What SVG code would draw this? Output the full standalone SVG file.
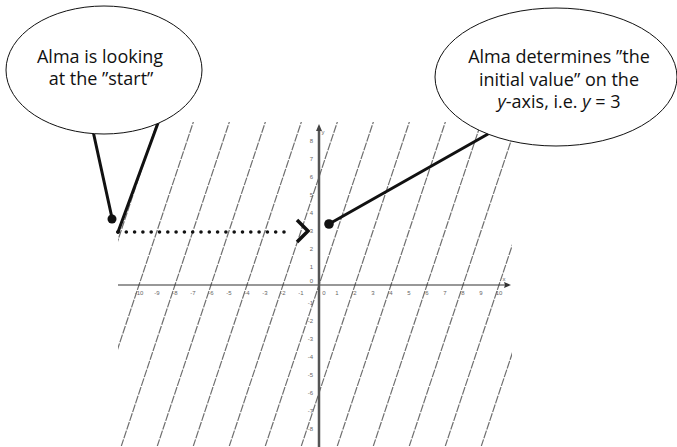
<svg xmlns="http://www.w3.org/2000/svg" width="677" height="447" viewBox="0 0 677 447">
<style>
.bub{fill:#fff;stroke:#111;stroke-width:1}
.txt{font-family:"Open Sans","Noto Sans",sans-serif;font-size:18px;fill:#111;text-anchor:middle}
.gl{stroke:#6e6e6e;stroke-width:1.2;stroke-dasharray:8 1.2;fill:none}
.tk{font-family:"Liberation Sans",sans-serif;font-size:6px;fill:#666;text-anchor:middle}
.tky{font-family:"Liberation Sans",sans-serif;font-size:6px;fill:#666;text-anchor:end}
.ptr{stroke:#111;stroke-width:3;fill:none;stroke-linecap:round}
</style>
<defs>
<clipPath id="plot"><rect x="118" y="122" width="394" height="324"/></clipPath>
</defs>
<g id="graph">
<g clip-path="url(#plot)">
<line class="gl" x1="13" y1="447" x2="122" y2="120"/>
<line class="gl" x1="49" y1="447" x2="158" y2="120"/>
<line class="gl" x1="85" y1="447" x2="194" y2="120"/>
<line class="gl" x1="121" y1="447" x2="230" y2="120"/>
<line class="gl" x1="157" y1="447" x2="266" y2="120"/>
<line class="gl" x1="193" y1="447" x2="302" y2="120"/>
<line class="gl" x1="229" y1="447" x2="338" y2="120"/>
<line class="gl" x1="265" y1="447" x2="374" y2="120"/>
<line class="gl" x1="301" y1="447" x2="410" y2="120"/>
<line class="gl" x1="337" y1="447" x2="446" y2="120"/>
<line class="gl" x1="373" y1="447" x2="482" y2="120"/>
<line class="gl" x1="409" y1="447" x2="518" y2="120"/>
<line class="gl" x1="445" y1="447" x2="554" y2="120"/>
<line class="gl" x1="481" y1="447" x2="590" y2="120"/>
</g>
<line x1="118" y1="285" x2="508" y2="285" stroke="#333" stroke-width="1.2"/>
<path d="M511,285 L504,282 L505,285 L504,288 Z" fill="#333"/>
<line x1="319" y1="447" x2="319" y2="128" stroke="#555" stroke-width="2.5"/>
<path d="M319,124 L316,131 L322,131 Z" fill="#444"/>
<text class="tk" x="139" y="295">-10</text>
<text class="tk" x="157" y="295">-9</text>
<text class="tk" x="175" y="295">-8</text>
<text class="tk" x="193" y="295">-7</text>
<text class="tk" x="211" y="295">-6</text>
<text class="tk" x="229" y="295">-5</text>
<text class="tk" x="247" y="295">-4</text>
<text class="tk" x="265" y="295">-3</text>
<text class="tk" x="283" y="295">-2</text>
<text class="tk" x="301" y="295">-1</text>
<text class="tk" x="324" y="295">0</text>
<text class="tk" x="337" y="295">1</text>
<text class="tk" x="355" y="295">2</text>
<text class="tk" x="373" y="295">3</text>
<text class="tk" x="391" y="295">4</text>
<text class="tk" x="409" y="295">5</text>
<text class="tk" x="427" y="295">6</text>
<text class="tk" x="445" y="295">7</text>
<text class="tk" x="463" y="295">8</text>
<text class="tk" x="481" y="295">9</text>
<text class="tk" x="499" y="295">10</text>
<text class="tk" x="504" y="281">x</text>
<text class="tk" x="323" y="134">y</text>
<text class="tky" x="313" y="143">8</text>
<text class="tky" x="313" y="161">7</text>
<text class="tky" x="313" y="179">6</text>
<text class="tky" x="313" y="197">5</text>
<text class="tky" x="313" y="215">4</text>
<text class="tky" x="313" y="233">3</text>
<text class="tky" x="313" y="251">2</text>
<text class="tky" x="313" y="269">1</text>
<text class="tky" x="313" y="283">0</text>
<text class="tky" x="313" y="305">-1</text>
<text class="tky" x="313" y="323">-2</text>
<text class="tky" x="313" y="341">-3</text>
<text class="tky" x="313" y="359">-4</text>
<text class="tky" x="313" y="377">-5</text>
<text class="tky" x="313" y="395">-6</text>
<text class="tky" x="313" y="413">-7</text>
<text class="tky" x="313" y="431">-8</text>
</g>
<g id="connectors">
<line x1="118" y1="232" x2="292" y2="232" stroke="#111" stroke-width="3.6" stroke-linecap="round" stroke-dasharray="0 8.3"/>
<path d="M297,220 L308,231 L297,242" stroke="#111" stroke-width="3.5" fill="none"/>
<line class="ptr" x1="93" y1="131" x2="112" y2="218"/>
<line class="ptr" x1="158" y1="123" x2="118" y2="232"/>
<line class="ptr" x1="329" y1="224" x2="488" y2="134"/>
<circle cx="112" cy="219" r="4.5" fill="#111"/>
<circle cx="118" cy="232" r="1.8" fill="#111"/>
<circle cx="329" cy="224" r="4.8" fill="#111"/>
</g>
<g id="bubble-left">
<ellipse class="bub" cx="104" cy="70" rx="98" ry="64"/>
<text class="txt" x="100" y="63">Alma is looking</text>
<text class="txt" x="101" y="85">at the ”start”</text>
</g>
<g id="bubble-right">
<ellipse class="bub" cx="556" cy="77" rx="121" ry="69"/>
<text class="txt" x="559" y="63">Alma determines ”the</text>
<text class="txt" x="559" y="86">initial value” on the</text>
<text class="txt" x="559" y="108"><tspan font-style="italic">y</tspan>-axis, i.e. <tspan font-style="italic">y</tspan> = 3</text>
</g>
</svg>
